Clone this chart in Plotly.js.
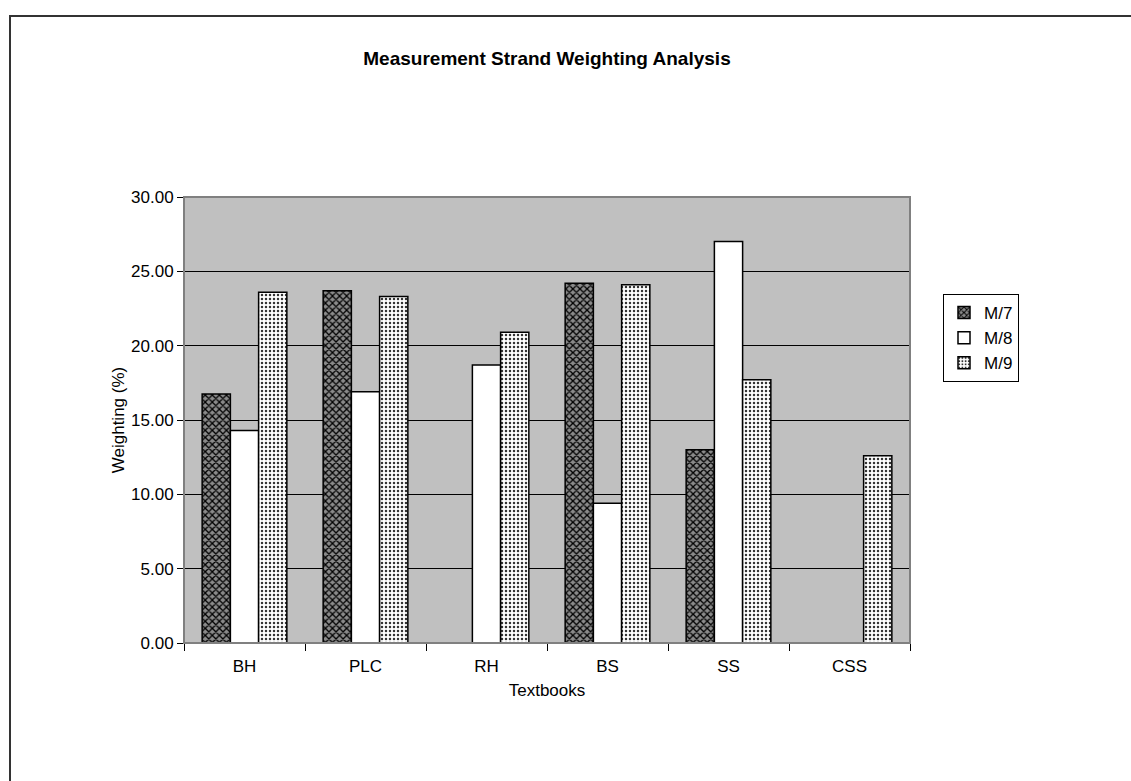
<!DOCTYPE html>
<html>
<head>
<meta charset="utf-8">
<script src="https://cdn.plot.ly/plotly-3.0.1.min.js"></script>
<style>
html,body{margin:0;padding:0;background:#fff;}
#chart{width:1131px;height:781px;}
</style>
</head>
<body>
<div id="chart"></div>
<script>
const categories = ["BH", "PLC", "RH", "BS", "SS", "CSS"];
const seriesNames = ["M/7", "M/8", "M/9"];
const m7 = [16.75, 23.7, 0, 24.2, 13.0, 0];
const m8 = [14.3, 16.9, 18.7, 9.4, 27.0, 0];
const m9 = [23.6, 23.3, 20.9, 24.1, 17.7, 12.6];
const yTicks = [0, 5, 10, 15, 20, 25, 30];

const font = "Liberation Sans, Arial, sans-serif";

const traces = [
  {
    type: "bar", name: seriesNames[0], x: categories, y: m7,
    marker: {
      color: "#505050",
      line: {color: "#000", width: 1.5},
      pattern: {shape: "x", fgcolor: "#000", bgcolor: "#8a8a8a", size: 5, solidity: 0.45, fillmode: "replace"}
    }
  },
  {
    type: "bar", name: seriesNames[1], x: categories, y: m8,
    marker: {color: "#ffffff", line: {color: "#000", width: 1.5}}
  },
  {
    type: "bar", name: seriesNames[2], x: categories, y: m9,
    marker: {
      color: "#e0e0e0",
      line: {color: "#000", width: 1.5},
      pattern: {shape: ".", fgcolor: "#333", bgcolor: "#fff", size: 4, solidity: 0.3, fillmode: "replace"}
    }
  }
];

const layout = {
  width: 1131, height: 781,
  margin: {l: 184, r: 221, t: 197, b: 138},
  paper_bgcolor: "#fff",
  plot_bgcolor: "#c0c0c0",
  barmode: "group",
  bargap: 0.3,
  bargroupgap: 0,
  font: {family: font, size: 17, color: "#000"},
  title: {
    text: "<b>Measurement Strand Weighting Analysis</b>",
    font: {family: font, size: 19, color: "#000"},
    x: 0.5, xref: "paper", xanchor: "center",
    y: 1 - 58/781, yref: "container", yanchor: "middle"
  },
  xaxis: {
    type: "category",
    tickson: "boundaries",
    ticks: "outside", ticklen: 7, tickcolor: "#000", tickwidth: 1,
    ticklabelstandoff: 8,
    showline: true, linecolor: "#000", linewidth: 1,
    showgrid: false, zeroline: false,
    tickfont: {family: font, size: 17},
    title: {text: "Textbooks", font: {family: font, size: 17}, standoff: 8},
    automargin: false
  },
  yaxis: {
    range: [0, 30],
    tickvals: yTicks,
    ticktext: yTicks.map(v => v.toFixed(2)),
    ticks: "outside", ticklen: 6, tickcolor: "#000", tickwidth: 1,
    showline: true, linecolor: "#000", linewidth: 1,
    showgrid: true, gridcolor: "#000", gridwidth: 1,
    zeroline: false,
    tickfont: {family: font, size: 17},
    title: {text: "Weighting (%)", font: {family: font, size: 17}, standoff: 2},
    automargin: false
  },
  legend: {
    x: (943 - 184) / 726, xanchor: "left",
    y: (643 - 294) / 446, yanchor: "top",
    bgcolor: "#fff", bordercolor: "#000", borderwidth: 1,
    font: {family: font, size: 17},
    traceorder: "normal",
    itemwidth: 30,
    tracegroupgap: 0
  },
  shapes: [
    {type: "rect", xref: "paper", yref: "paper",
     x0: 0, x1: 1, y0: 0, y1: 1,
     line: {color: "#808080", width: 2}, fillcolor: "rgba(0,0,0,0)", layer: "above"},
    {type: "rect", xref: "paper", yref: "paper",
     x0: (10 - 184) / 726, x1: (1140 - 184) / 726,
     y0: (643 - 790) / 446, y1: (643 - 16) / 446,
     line: {color: "#333", width: 2}, fillcolor: "rgba(0,0,0,0)", layer: "below"}
  ],
  showlegend: true
};

Plotly.newPlot("chart", traces, layout, {displayModeBar: false, staticPlot: true});
</script>
</body>
</html>
